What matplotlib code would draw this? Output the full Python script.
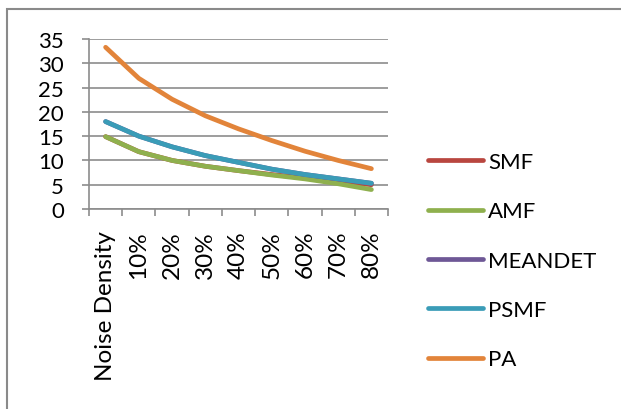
import matplotlib
matplotlib.use("Agg")
import matplotlib.pyplot as plt
from matplotlib.patches import Rectangle

plt.rcParams['font.family'] = ['Lato', 'DejaVu Sans']

categories = ["Noise Density", "10%", "20%", "30%", "40%", "50%", "60%", "70%", "80%"]
series_names = ["SMF", "AMF", "MEANDET", "PSMF", "PA"]
smf = [14.9, 11.8, 10.0, 8.8, 7.9, 7.1, 6.4, 5.7, 5.0]
amf = [14.9, 11.8, 10.0, 8.8, 7.9, 7.0, 6.2, 5.2, 4.0]
meandet = [18.0, 15.0, 12.8, 11.0, 9.6, 8.2, 7.1, 6.2, 5.3]
psmf = [18.0, 15.0, 12.8, 11.0, 9.6, 8.2, 7.1, 6.2, 5.3]
pa = [33.3, 26.9, 22.6, 19.2, 16.5, 14.1, 11.9, 10.0, 8.3]
y_ticks = [0, 5, 10, 15, 20, 25, 30, 35]

colors = ["#b9463f", "#8fb04e", "#6e5896", "#3a9cb7", "#e2843a"]
values = [smf, amf, meandet, psmf, pa]

W, H = 621, 410
fig = plt.figure(figsize=(W / 100, H / 100), dpi=100)
fig.patch.set_facecolor("white")

# outer chart frame
fig.add_artist(Rectangle((7 / W, -0.05), 1.2, (H - 10) / H + 0.05,
                         transform=fig.transFigure, fill=False,
                         edgecolor="#8a8a8a", linewidth=1.5))

ax = fig.add_axes([89 / W, (H - 210) / H, 299 / W, 170 / H])
x = list(range(len(categories)))
lines = []
for name, vals, c in zip(series_names, values, colors):
    ln, = ax.plot(x, vals, color=c, linewidth=3.4, solid_capstyle="round",
                  solid_joinstyle="round", label=name, zorder=3)
    lines.append(ln)

ax.set_xlim(-0.5, len(categories) - 0.5)
ax.set_ylim(0, 35)
ax.set_yticks(y_ticks)
ax.grid(axis="y", color="#8c8c8c", linewidth=1.2)
ax.set_axisbelow(True)
for s in ["top", "right"]:
    ax.spines[s].set_visible(False)
for s in ["left", "bottom"]:
    ax.spines[s].set_color("#8c8c8c")
    ax.spines[s].set_linewidth(1.2)

ax.set_xticks(x)
ax.set_xticklabels(categories, rotation=90, va="top", ha="center")
ax.set_xticks([i - 0.5 for i in range(len(categories) + 1)], minor=True)
ax.tick_params(axis="x", which="major", length=0, pad=15, labelsize=17.5)
ax.tick_params(axis="x", which="minor", length=5, width=1.2, color="#8c8c8c")
ax.tick_params(axis="y", length=5, width=1.2, color="#8c8c8c", pad=13, labelsize=16)

fig.legend(handles=lines, loc="upper left", bbox_to_anchor=(428 / W, 1 - 153 / H),
           frameon=False, fontsize=16, handlelength=2.48, handletextpad=0.22,
           labelspacing=1.32, borderpad=0, borderaxespad=0)

fig.savefig("out.png", dpi=100)
